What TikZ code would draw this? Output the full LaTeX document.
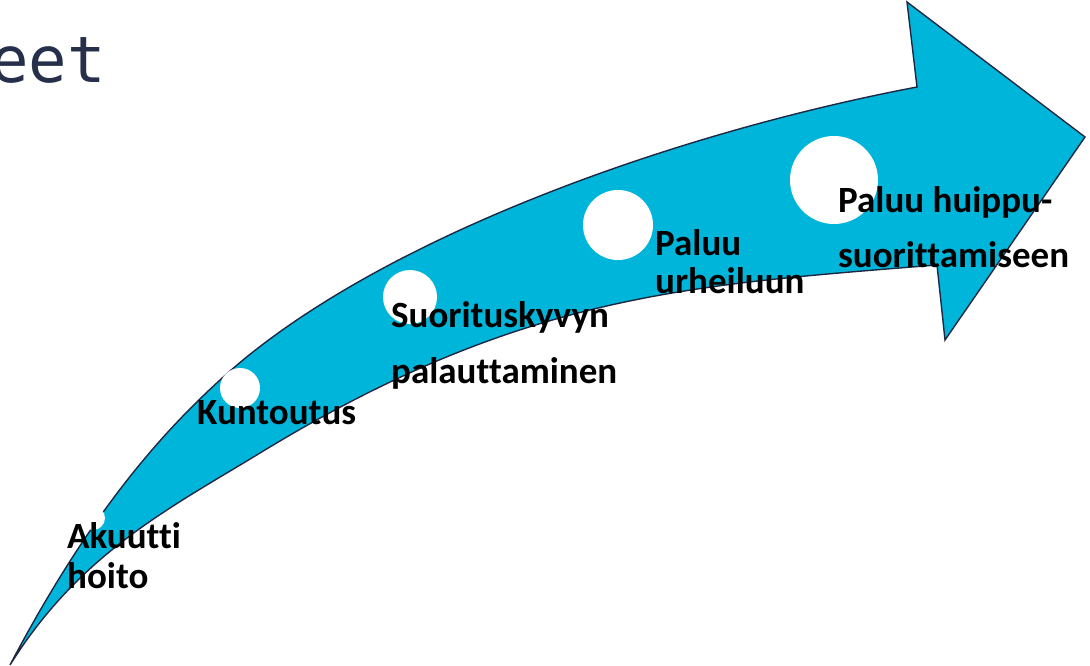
\documentclass[tikz,border=0pt]{standalone}
\usepackage{fontspec}
\setmainfont{Carlito}[Ligatures=CommonOff]
\newfontfamily\monof{DejaVu Sans Mono}
\definecolor{arrowfill}{RGB}{0,181,218}
\definecolor{arrowline}{RGB}{31,40,66}
\definecolor{titlecol}{RGB}{38,48,74}
\begin{document}
\begin{tikzpicture}[x=1pt,y=-1pt,
  bigarrow/.style={fill=arrowfill,draw=arrowline,line width=1.4pt,line join=miter},
  dot/.style={fill=white,draw=none},
  lbl/.style={anchor=base west,inner sep=0pt,font=\fontsize{37}{41}\selectfont\bfseries,text=black}]
\useasboundingbox (0,0) rectangle (1090,666);
\fill[white] (0,0) rectangle (1090,666);
\node[anchor=base east,inner sep=0pt,font=\monof\fontsize{64}{70}\selectfont,text=titlecol] (title) at (106,83) {eet};
\filldraw[bigarrow] (10,665) .. controls (90,513) and (160,435) .. (220,380)
  .. controls (370,242) and (667,134.5) .. (917,87)
  -- (907,2) -- (1085,137) -- (945,340) -- (937,265)
  .. controls (687,285) and (520,294.4) .. (260,453)
  .. controls (170,508) and (80,553) .. (10,665) -- cycle;
\fill[dot] (93,518) circle (12) coordinate (c1);
\fill[dot] (240,388) circle (20) coordinate (c2);
\fill[dot] (410,297) circle (27) coordinate (c3);
\fill[dot] (618,225) circle (35) coordinate (c4);
\fill[dot] (834,180) circle (44) coordinate (c5);
\node[lbl] (a1) at (67,548) {Akuutti};
\node[lbl] (a2) at (67,588) {hoito};
\node[lbl] (k1) at (197,424) {Kuntoutus};
\node[lbl] (s1) at (391,327) {Suorituskyvyn};
\node[lbl] (s2) at (391,383) {palauttaminen};
\node[lbl] (p1) at (655,255) {Paluu};
\node[lbl] (p2) at (655,293) {urheiluun};
\node[lbl] (h1) at (838,212) {Paluu huippu-};
\node[lbl] (h2) at (838,267) {suorittamiseen};
\end{tikzpicture}
\end{document}
